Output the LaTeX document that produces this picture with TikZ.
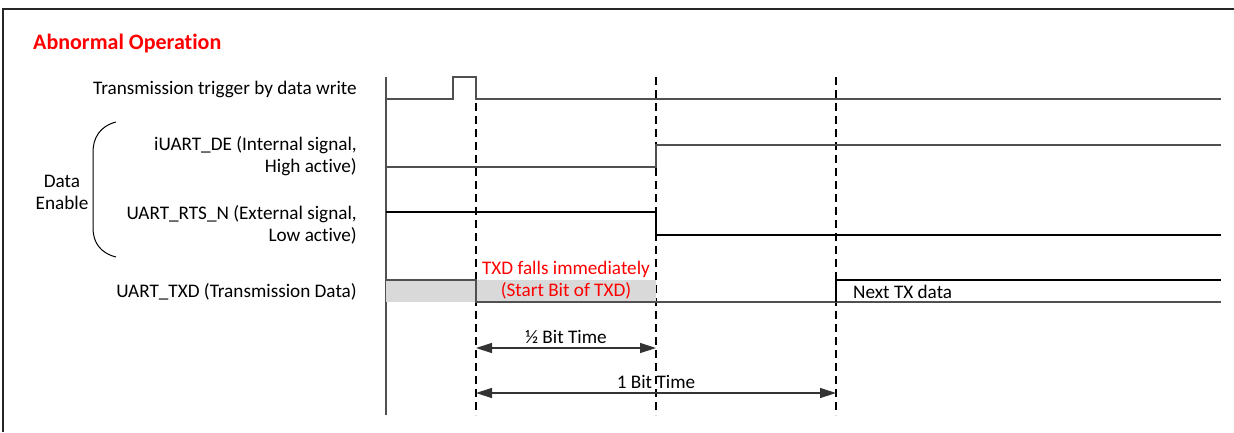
\documentclass[tikz,border=0pt]{standalone}
\usepackage{fontspec}
\setmainfont{Carlito}[RawFeature=-liga]
\usetikzlibrary{arrows.meta}

\definecolor{alarmred}{RGB}{255,0,0}
\definecolor{busgrey}{RGB}{217,217,217}
\definecolor{wavegrey}{RGB}{80,80,80}

\tikzset{
  wave/.style={line width=1.4pt, wavegrey},
  tickline/.style={line width=1.1pt, dash pattern=on 8pt off 5pt},
  siglabel/.style={anchor=east, align=right, inner sep=0pt},
  span/.style={{Triangle[length=16pt,width=10pt]}-{Triangle[length=16pt,width=10pt]}, line width=1.3pt, black!80}
}

\begin{document}
\begin{tikzpicture}[x=1pt, y=-1pt, font=\fontsize{19.2}{22}\selectfont]
    \useasboundingbox (0,0) rectangle (1234,432);

    % Frame
    \draw[line width=1.5pt, black!85] (3,432) -- (3,9) -- (1234,9);
    \node[anchor=west, inner sep=0pt, text=alarmred, font=\fontsize{22}{24}\selectfont\bfseries] (title) at (33,44) {Abnormal Operation};

    % Time marks
    \coordinate (t0) at (386,77);   \coordinate (t0b) at (386,415);
    \coordinate (t1) at (476,77);   \coordinate (t1b) at (476,415);
    \coordinate (t2) at (656,77);   \coordinate (t2b) at (656,415);
    \coordinate (t3) at (836,77);   \coordinate (t3b) at (836,415);
    \draw[line width=1.2pt, wavegrey] (t0) -- (t0b);
    \draw[tickline] (t1) -- (t1b);
    \draw[tickline] (t2) -- (t2b);
    \draw[tickline] (t3) -- (t3b);

    % Signal names
    \node[siglabel] (trig) at (357,89) {Transmission trigger by data write};
    \node[siglabel] (de) at (357,156.5) {iUART\_DE (Internal signal,\\High active)};
    \node[siglabel] (rts) at (357,225) {UART\_RTS\_N (External signal,\\Low active)};
    \node[siglabel] (txd) at (357,292) {UART\_TXD (Transmission Data)};
    \node[align=center, inner sep=0pt] (enable) at (62,192) {Data\\Enable};
    \draw[line width=1pt] (116,122) .. controls (100,126) and (93,138) .. (93,152)
        -- (93,228) .. controls (93,242) and (100,253) .. (116,257);

    % Waveforms
    \draw[wave] (386,99) -- (453,99) -- (453,77) -- (476,77) -- (476,99) -- (1221,99);
    \draw[wave] (386,167) -- (656,167) -- (656,145) -- (1221,145);
    \draw[wave, black] (386,212) -- (656,212) -- (656,235) -- (1221,235);
    \fill[busgrey] (386,280) rectangle (656,302);
    \draw[wave] (386,280) -- (476,280) -- (476,302) -- (1221,302);
    \draw[wave, black] (836,302) -- (836,280) -- (1221,280);
    \node[align=center, text=alarmred, inner sep=0pt] (falls) at (566,280.5) {TXD falls immediately\\(Start Bit of TXD)};
    \node[anchor=west, inner sep=0pt] (next) at (853,292) {Next TX data};

    % Bit times
    \coordinate (h1) at (476,348); \coordinate (h2) at (656,348);
    \coordinate (f1) at (476,393); \coordinate (f2) at (836,393);
    \draw[span] (h1) -- (h2) node[midway, above=0pt, text=black] (halfbit) {½ Bit Time};
    \draw[span] (f1) -- (f2) node[midway, above=0pt, text=black] (fullbit) {1 Bit Time};
\end{tikzpicture}
\end{document}
